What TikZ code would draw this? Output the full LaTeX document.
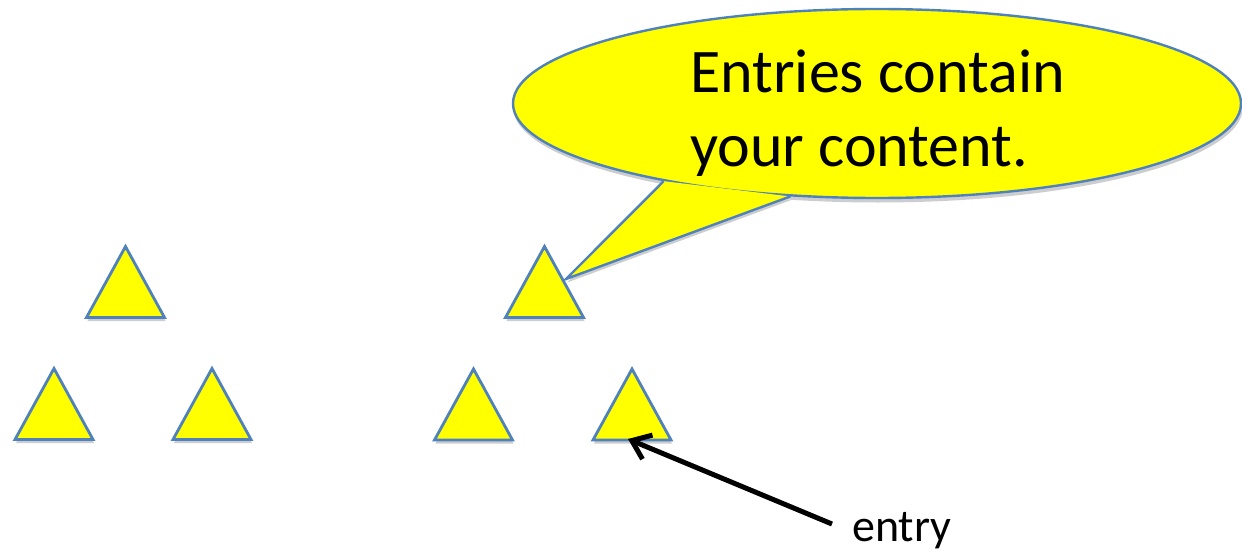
\documentclass[tikz,border=0pt]{standalone}
\usepackage{fontspec}
\setmainfont{Carlito}
\usetikzlibrary{shapes.geometric,arrows.meta,backgrounds}
\definecolor{shapeyellow}{RGB}{255,255,0}
\definecolor{shapeblue}{RGB}{79,129,189}
\definecolor{shadowgray}{RGB}{205,205,205}
\newcommand\mytri[3]{%
  \draw[tri,shift={(#2,#3)}] (-39,35.5) -- (0,-35.5) -- (39,35.5) -- cycle;
  \coordinate (#1) at (#2,#3);
  \begin{scope}[on background layer]
    \fill[shadowgray,shift={(#2,#3)},xshift=1pt,yshift=-3.5pt] (-39,35.5) -- (0,-35.5) -- (39,35.5) -- cycle;
  \end{scope}}
\begin{document}
\begin{tikzpicture}[x=1pt,y=-1pt,
  tri/.style={fill=shapeyellow, draw=shapeblue, line width=2.8pt, line join=miter},
  callout/.style={ellipse, fill=shapeyellow, draw=shapeblue, line width=2.4pt,
    minimum width=728pt, minimum height=189pt, inner sep=0pt},
  outline/.style={draw=shapeblue, line width=2.4pt, line join=miter},
  bigtext/.style={font=\fontsize{62}{74}\selectfont, inner sep=0pt},
  smalltext/.style={font=\fontsize{46}{55}\selectfont, inner sep=0pt},
  pointer/.style={line width=5pt, -{Straight Barb[length=17pt,width=26pt]}}]
\useasboundingbox (0,0) rectangle (1242,551);
\begin{scope}[on background layer]
  \fill[white] (0,0) rectangle (1242,551);
\end{scope}

% triangles
\mytri{T1}{125.5}{282}
\mytri{T2}{54}{404}
\mytri{T3}{212}{404}
\mytri{T4}{544.5}{282}
\mytri{T5}{473.5}{404.5}
\mytri{T6}{632}{404.5}

% callout
\node[callout] (callout) at (877,103.5) {};
\coordinate (ptip) at (566,279);
\fill[shapeyellow] (callout.200.2) -- (ptip) -- (callout.227.7) -- cycle;
\draw[outline] (callout.200.2) -- (ptip) -- (callout.227.7);
\node[bigtext, anchor=base west, align=left] (ctext) at (690,166) {Entries contain\\your content.};
\begin{scope}[on background layer]
  \node[ellipse, fill=shadowgray, minimum width=730pt, minimum height=191pt, inner sep=0pt] at (878,107) {};
  \fill[shadowgray] ([shift={(1pt,-3.5pt)}]callout.200.2) -- ([shift={(1pt,-3.5pt)}]ptip) -- ([shift={(1pt,-3.5pt)}]callout.227.7) -- cycle;
\end{scope}

% entry label and arrow
\node[smalltext, anchor=base west] (entry) at (852,541) {entry};
\coordinate (entrytail) at (832,524);
\coordinate (t6tip) at (628,439);
\draw[pointer] (entrytail) -- (t6tip);
\end{tikzpicture}
\end{document}
